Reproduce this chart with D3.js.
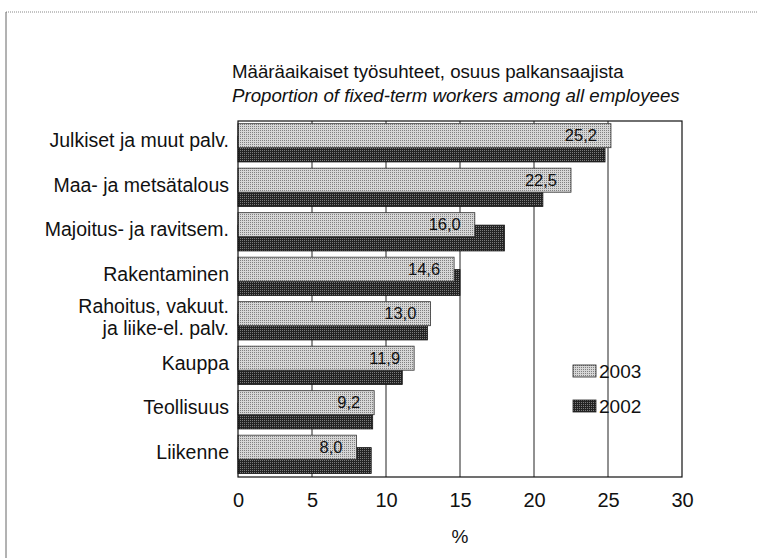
<!DOCTYPE html>
<html>
<head>
<meta charset="utf-8">
<script src="https://cdn.jsdelivr.net/npm/d3@7"></script>
<style>
  body { margin: 0; background: #fff; }
  svg { display: block; }
  text { font-family: "Liberation Sans", Arial, sans-serif; fill: #111; }
</style>
</head>
<body>
<div id="chart"></div>
<script>
// data
var categories = ['Julkiset ja muut palv.', 'Maa- ja metsätalous', 'Majoitus- ja ravitsem.', 'Rakentaminen',
                  'Rahoitus, vakuut.|ja liike-el. palv.', 'Kauppa', 'Teollisuus', 'Liikenne'];
var values2003 = [25.2, 22.5, 16.0, 14.6, 13.0, 11.9, 9.2, 8.0];
var values2002 = [24.8, 20.6, 18.0, 15.0, 12.8, 11.1, 9.1, 9.0];
var xTicks = [0, 5, 10, 15, 20, 25, 30];
var seriesNames = ['2003', '2002'];

var width = 757, height = 558;
var plotLeft = 238, plotRight = 682, plotTop = 121, plotBottom = 477;

var svg = d3.select('#chart').append('svg')
    .attr('width', width)
    .attr('height', height);

// halftone patterns
var defs = svg.append('defs');
var pl = defs.append('pattern').attr('id', 'lightDots')
    .attr('width', 2).attr('height', 2).attr('patternUnits', 'userSpaceOnUse');
pl.append('rect').attr('width', 2).attr('height', 2).attr('fill', '#d6d6d6');
pl.append('rect').attr('width', 1).attr('height', 1).attr('fill', '#808080');
var pd = defs.append('pattern').attr('id', 'darkDots')
    .attr('width', 2).attr('height', 2).attr('patternUnits', 'userSpaceOnUse');
pd.append('rect').attr('width', 2).attr('height', 2).attr('fill', '#232323');
pd.append('rect').attr('width', 1).attr('height', 1).attr('fill', '#7a7a7a');

// page frame (scan edge)
svg.append('line').attr('x1', 6).attr('x2', width).attr('y1', 12).attr('y2', 12)
    .attr('stroke', '#888').attr('stroke-width', 1).attr('stroke-dasharray', '1,1');
svg.append('line').attr('x1', 6).attr('x2', 6).attr('y1', 12).attr('y2', height)
    .attr('stroke', '#666').attr('stroke-width', 1);

var x = d3.scaleLinear().domain([0, 30]).range([plotLeft, plotRight]);
var y = d3.scaleBand().domain(categories).range([plotTop, plotBottom]);
var bw = y.bandwidth();

// titles
svg.append('text').attr('x', 232).attr('y', 78)
    .style('font-size', '18.7px')
    .text('Määräaikaiset työsuhteet, osuus palkansaajista');
svg.append('text').attr('x', 232).attr('y', 102)
    .style('font-size', '18.7px').style('font-style', 'italic')
    .text('Proportion of fixed-term workers among all employees');

// gridlines
svg.append('g').selectAll('line')
    .data(xTicks.filter(function(d) { return d > 0 && d < 30; }))
    .enter().append('line')
    .attr('x1', function(d) { return x(d); })
    .attr('x2', function(d) { return x(d); })
    .attr('y1', plotTop).attr('y2', plotBottom)
    .attr('stroke', '#222').attr('stroke-width', 1);

// 2002 bars (behind)
svg.append('g').selectAll('rect')
    .data(values2002)
    .enter().append('rect')
    .attr('x', x(0))
    .attr('y', function(d, i) { return y(categories[i]) + bw * 0.34; })
    .attr('width', function(d) { return x(d) - x(0); })
    .attr('height', bw * 0.58)
    .attr('fill', 'url(#darkDots)')
    .attr('stroke', '#111').attr('stroke-width', 0.8);

// 2003 bars (front)
svg.append('g').selectAll('rect')
    .data(values2003)
    .enter().append('rect')
    .attr('x', x(0))
    .attr('y', function(d, i) { return y(categories[i]) + bw * 0.06; })
    .attr('width', function(d) { return x(d) - x(0); })
    .attr('height', bw * 0.54)
    .attr('fill', 'url(#lightDots)')
    .attr('stroke', '#333').attr('stroke-width', 0.8);

// value labels
svg.append('g').selectAll('text')
    .data(values2003)
    .enter().append('text')
    .attr('x', function(d) { return x(d) - 14; })
    .attr('y', function(d, i) { return y(categories[i]) + bw * 0.33; })
    .attr('dy', '0.35em')
    .attr('text-anchor', 'end')
    .style('font-size', '16.5px')
    .text(function(d) { return d.toFixed(1).replace('.', ','); });

// category labels
var cat = svg.append('g').selectAll('text')
    .data(categories)
    .enter().append('text')
    .attr('x', 229)
    .attr('y', function(d) { return y(d) + bw / 2 - 3; })
    .attr('text-anchor', 'end')
    .style('font-size', '19.5px');
cat.each(function(d) {
    var lines = d.split('|');
    var t = d3.select(this);
    lines.forEach(function(s, k) {
        t.append('tspan')
            .attr('x', 229)
            .attr('dy', k === 0 ? (lines.length === 1 ? '0.35em' : '-0.25em') : '1.1em')
            .text(s);
    });
});

// x axis
var xAxis = svg.append('g')
    .attr('transform', 'translate(0,' + plotBottom + ')')
    .call(d3.axisBottom(x).tickValues(xTicks).tickSize(0).tickPadding(16));
xAxis.select('.domain').remove();
xAxis.selectAll('text').style('font-size', '20px')
    .style('font-family', '"Liberation Sans", Arial, sans-serif').attr('fill', '#111');

svg.append('text').attr('x', x(15)).attr('y', 543)
    .attr('text-anchor', 'middle').style('font-size', '19px').text('%');

// plot frame
svg.append('rect').attr('x', plotLeft).attr('y', plotTop)
    .attr('width', plotRight - plotLeft).attr('height', plotBottom - plotTop)
    .attr('fill', 'none').attr('stroke', '#111').attr('stroke-width', 1.2);

// legend
var legend = svg.append('g').selectAll('g')
    .data(seriesNames)
    .enter().append('g')
    .attr('transform', function(d, i) { return 'translate(573,' + (365 + i * 35) + ')'; });
legend.append('rect')
    .attr('width', 23).attr('height', 12)
    .attr('fill', function(d, i) { return i === 0 ? 'url(#lightDots)' : 'url(#darkDots)'; })
    .attr('stroke', '#222').attr('stroke-width', 0.8);
legend.append('text')
    .attr('x', 26).attr('y', 13)
    .style('font-size', '19px')
    .text(function(d) { return d; });
</script>
</body>
</html>
